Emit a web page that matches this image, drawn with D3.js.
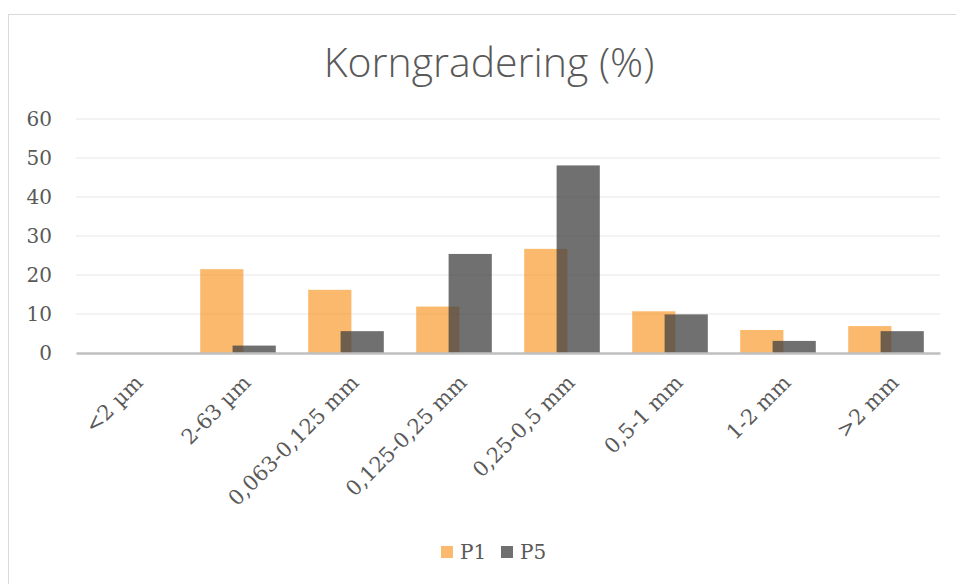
<!DOCTYPE html>
<meta charset="utf-8">
<script src="https://d3js.org/d3.v7.min.js"></script>
<style>
  body { margin: 0; background: #fff; }
</style>
<div id="chart"></div>
<script>
// Data
const categories = ["<2 µm", "2-63 µm", "0,063-0,125 mm", "0,125-0,25 mm", "0,25-0,5 mm", "0,5-1 mm", "1-2 mm", ">2 mm"];
const p1 = [0, 21.5, 16.2, 11.9, 26.7, 10.7, 5.9, 6.9];
const p5 = [0, 1.9, 5.6, 25.4, 48.1, 9.9, 3.1, 5.6];
const yTicks = [0, 10, 20, 30, 40, 50, 60];
const seriesNames = ["P1", "P5"];

const W = 956, H = 584;
const margin = {top: 119, right: 16, bottom: 231, left: 76};
const width = W - margin.left - margin.right,
      height = H - margin.top - margin.bottom;

const svg = d3.select("#chart").append("svg")
  .attr("width", W)
  .attr("height", H);

// chart frame
svg.append("rect")
  .attr("x", 8.5).attr("y", 14.5)
  .attr("width", W + 10).attr("height", H + 10)
  .attr("fill", "#fff")
  .attr("stroke", "#d9d9d9");

svg.append("text")
  .attr("x", 489).attr("y", 77)
  .attr("text-anchor", "middle")
  .style("font-family", "'Open Sans', sans-serif")
  .style("font-weight", 300)
  .style("font-size", "41px")
  .style("fill", "#595959")
  .text("Korngradering (%)");

const g = svg.append("g")
  .attr("transform", `translate(${margin.left},${margin.top})`);

const x = d3.scaleBand().domain(categories).range([0, width]);
const y = d3.scaleLinear().domain([0, 60]).range([height, 0]);

// gridlines
g.append("g").selectAll("line")
  .data(yTicks.slice(1))
  .join("line")
    .attr("x1", 0).attr("x2", width)
    .attr("y1", d => y(d)).attr("y2", d => y(d))
    .attr("stroke", "#efefef")
    .attr("stroke-width", 1.3);

// y axis labels
const yAxis = g.append("g")
  .call(d3.axisLeft(y).tickValues(yTicks).tickSize(0).tickPadding(24));
yAxis.select(".domain").remove();
yAxis.selectAll("text")
  .style("font-family", "'DejaVu Serif', serif")
  .style("font-size", "20px")
  .style("fill", "#595959");

const bw = x.bandwidth() * 0.4;
const off = x.bandwidth() * 0.3;
const x0 = x.bandwidth() * 0.15;

g.append("g").selectAll("rect")
  .data(p1)
  .join("rect")
    .attr("x", (d, i) => x(categories[i]) + x0)
    .attr("y", d => y(d))
    .attr("width", bw)
    .attr("height", d => y(0) - y(d))
    .attr("fill", "#f7941d")
    .attr("fill-opacity", 0.65);

g.append("g").selectAll("rect")
  .data(p5)
  .join("rect")
    .attr("x", (d, i) => x(categories[i]) + x0 + off)
    .attr("y", d => y(d))
    .attr("width", bw)
    .attr("height", d => y(0) - y(d))
    .attr("fill", "#404040")
    .attr("fill-opacity", 0.75);

// x axis
const xAxis = g.append("g")
  .attr("transform", `translate(0,${height})`)
  .call(d3.axisBottom(x).tickSize(0).tickPadding(0));
xAxis.select(".domain")
  .attr("stroke", "#bfbfbf")
  .attr("stroke-width", 2.5);
xAxis.selectAll("text")
  .style("font-family", "'DejaVu Serif', serif")
  .style("font-size", "21px")
  .style("fill", "#595959")
  .attr("text-anchor", "end")
  .attr("y", 0)
  .attr("dy", 0)
  .attr("transform", "translate(14,31) rotate(-45)");

// legend
const colors = ["#f7941d", "#404040"];
const opac = [0.65, 0.75];
const leg = svg.append("g").attr("transform", "translate(441,546)");
const legX = [0, 60];
seriesNames.forEach((s, i) => {
  leg.append("rect")
    .attr("x", legX[i]).attr("y", 0)
    .attr("width", 12).attr("height", 12)
    .attr("fill", colors[i]).attr("fill-opacity", opac[i]);
  leg.append("text")
    .attr("x", legX[i] + 19).attr("y", 13)
    .style("font-family", "'DejaVu Serif', serif")
    .style("font-size", "20px")
    .style("fill", "#595959")
    .text(s);
});
</script>
